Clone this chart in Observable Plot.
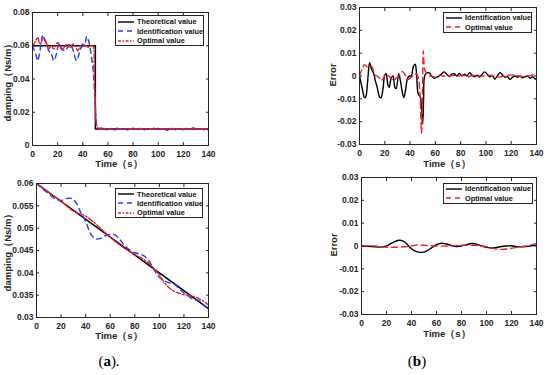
<!DOCTYPE html>
<html><head><meta charset="utf-8">
<script src="https://cdn.jsdelivr.net/npm/d3@7"></script>
<script src="https://cdn.jsdelivr.net/npm/@observablehq/plot@0.6"></script>
<style>
body{margin:0;background:#fff;}
#root{position:relative;width:550px;height:375px;overflow:hidden;font-family:"Liberation Sans",Arial,sans-serif;}
.panel{position:absolute;}
.lab{position:absolute;font-weight:bold;font-size:9.5px;color:#262626;white-space:nowrap;transform:translate(-50%,-50%);}
.ylab{transform:translate(-50%,-50%) rotate(-90deg);}
.legend{position:absolute;border:1px solid #262626;background:#fff;font-weight:bold;font-size:7.3px;color:#111;box-sizing:border-box;}
.legend .row{position:absolute;left:0;height:10px;display:flex;align-items:center;white-space:nowrap;}
.cap{position:absolute;font-family:"Liberation Serif","DejaVu Serif",serif;font-size:15px;color:#000;transform:translate(-50%,-50%);white-space:nowrap;}
</style></head><body><div id="root"></div>
<script>
// ---------- data ----------
const xTicks = [0, 20, 40, 60, 80, 100, 120, 140];
const yTicksA = [0, 0.02, 0.04, 0.06, 0.08];
const yTicksErr = [-0.03, -0.02, -0.01, 0, 0.01, 0.02, 0.03];
const yTicksC = [0.03, 0.035, 0.04, 0.045, 0.05, 0.055, 0.06];

const legendNamesA = ["Theoretical value", "Identification value", "Optimal value"];
const legendNamesB = ["Identification value", "Optimal value"];

// Panel (a) top: step change of damping
const tA_theo = [0, 50, 50, 140];
const vA_theo = [0.06, 0.06, 0.01, 0.01];
const tA_id = [0,1,3,4,5,7,8,10,12,13,15,17,19,21,23,26,28,30,32,35,37,38,40,42,43,45,46,47.5,48.5,49.5,50.5,51.5,53,55,57,60,63,65,67,70,73,76,80,83,86,89,92,95,98,101,104,107,110,113,116,119,122,125,128,131,134,137,140];
const vA_id = [0.06,0.058,0.054,0.051,0.053,0.062,0.066,0.063,0.059,0.057,0.055,0.051,0.055,0.061,0.058,0.057,0.059,0.061,0.058,0.051,0.055,0.058,0.06,0.062,0.0655,0.062,0.058,0.05,0.043,0.03,0.016,0.011,0.0102,0.0106,0.0092,0.0097,0.0103,0.0094,0.0104,0.0097,0.0101,0.0094,0.0104,0.0097,0.0103,0.0095,0.0101,0.0098,0.0109,0.0096,0.0103,0.0091,0.0104,0.0096,0.0102,0.0094,0.0102,0.0096,0.0106,0.0097,0.0101,0.0093,0.009];
const tA_opt = [0,2,4,6,8,9,11,13,15,17,20,22,24,26,28,30,32,34,36,38,40,42,44,46,48,49,50,51,52,54,57,60,63,66,69,72,76,80,84,88,92,96,100,104,108,112,116,120,124,128,132,136,140];
const vA_opt = [0.06,0.062,0.065,0.061,0.064,0.065,0.062,0.058,0.06,0.058,0.062,0.06,0.058,0.06,0.061,0.059,0.061,0.06,0.057,0.06,0.061,0.06,0.059,0.06,0.06,0.045,0.025,0.012,0.0105,0.0098,0.0102,0.0097,0.01,0.0093,0.01,0.0098,0.0101,0.0099,0.0103,0.0098,0.01,0.0101,0.0098,0.0101,0.0099,0.0102,0.0098,0.01,0.0099,0.0103,0.0098,0.0101,0.0097];

// Panel (b) top: errors for step change
const tB_id = [0,2,4,5,6.5,8,9.5,11,12.5,14,16,17,18.5,20,21,22.5,23.5,25,26.5,28,29,31,32,33.5,35,36.5,38,39.5,41,42.5,44,45,46.5,48,49,50,50.7,51.5,53,55,57,59,61,63,65,67,69,71,73,75,77,79,81,83,85,87,89,91,93,95,97,99,101,103,105,107,109,111,113,115,117,119,121,123,125,127,129,131,133,135,137,139,140];
const vB_id = [0,-0.005,-0.0095,-0.009,-0.002,0.0058,0.003,0.0015,-0.002,-0.005,-0.0093,-0.0095,-0.006,0.0005,0.001,-0.004,-0.005,-0.001,0,-0.005,-0.0055,0.001,-0.001,-0.006,-0.0095,-0.006,-0.001,0,0,0.004,0.0052,0.002,-0.008,-0.009,-0.013,-0.021,-0.01,0,0.0012,0.0015,0,-0.001,-0.0005,0,0.001,0.0018,0.0008,-0.0002,0.0008,0.001,0,0.0012,0,0.0008,0,0.0015,0.0003,-0.0003,0.0003,-0.0005,0.0008,0.0018,0.0008,-0.0003,0.0003,-0.0013,0,0.0015,0.0005,-0.0005,-0.0003,-0.0015,-0.0005,0,-0.0005,0,-0.0008,-0.0003,0,-0.001,-0.0003,-0.0013,-0.0012];
const tB_opt = [0,2,4,6,8,10,12,14,16,17,19,21,23,25,27,29,31,33,34,36,38,40,42,44,46,47.5,49,49.5,50,50.5,51.5,53,55,57,60,63,66,70,74,78,82,86,90,94,98,102,106,110,114,118,122,126,130,134,137,140];
const vB_opt = [0,0.003,0.005,0.004,0.0045,0.004,0.0005,0,-0.001,-0.002,-0.001,0.001,0,-0.001,-0.002,-0.001,0,0.001,0.002,0.0005,-0.0015,-0.001,0,0.001,0,-0.005,-0.025,-0.02,0,0.011,0.003,0.001,0,0,-0.0005,0.0003,0,-0.0003,0.0003,0,0.0003,-0.0003,0.0003,0,0,0.0003,0,-0.0005,0,0.0003,0.0005,0,-0.0003,0,0.0005,0.0003];

// Panel (a) bottom: linear change of damping
const tC_theo = [0, 140];
const vC_theo = [0.06, 0.032];
const tC_id = [0,5,10,15,20,24,28,32,36,40,44,48,52,56,60,64,68,72,76,80,84,88,92,96,100,104,108,112,116,120,124,128,132,136,140];
const vC_id = [0.06,0.0588,0.0577,0.0566,0.0562,0.0566,0.0567,0.0558,0.0535,0.0515,0.0488,0.0476,0.0477,0.0483,0.0486,0.0485,0.0474,0.046,0.0451,0.0445,0.0442,0.0437,0.0425,0.0405,0.039,0.0382,0.0378,0.0375,0.0365,0.0355,0.0347,0.034,0.0338,0.0328,0.032];
const tC_opt = [0,10,20,30,40,50,60,70,80,90,100,105,110,115,120,125,130,135,140];
const vC_opt = [0.06,0.058,0.056,0.0538,0.0527,0.0505,0.048,0.0458,0.0441,0.0425,0.0395,0.0375,0.0362,0.0355,0.0351,0.0349,0.0345,0.0338,0.0328];

// Panel (b) bottom: errors for linear change
const tD_id = [0,5,10,15,20,25,30,33,36,40,44,48,52,56,60,64,68,72,76,80,84,88,92,96,100,104,108,112,116,120,124,128,132,136,140];
const vD_id = [0,-0.0001,-0.0003,-0.0005,0,0.0015,0.0025,0.0022,0.001,-0.0012,-0.0025,-0.0028,-0.0022,-0.0008,0.0006,0.0012,0.0009,0.0002,-0.0002,0,0.0006,0.0011,0.0008,0,-0.0006,-0.0009,-0.0006,-0.0002,0,0.0001,-0.0003,-0.0004,-0.0002,0.0001,0.0003];
const tD_opt = [0,10,20,30,40,45,50,60,70,80,90,100,105,112,118,125,132,138,140];
const vD_opt = [0,0,-0.0005,-0.0005,0,0.0005,0.0003,0,0,0.0003,0.0003,-0.0003,-0.001,-0.0015,-0.0012,-0.0005,0,0.0008,0.001];

// ---------- styles ----------
const INK = "#262626";
const BLUE = "#1f3cff";
const RED = "#f01e23";
const fmt = d => String(+d.toFixed(4));

const root = document.getElementById("root");

function panel({left, top, width, height, mL, mR, mT, mB, yDomain, yTicks, lines}) {
  const chart = Plot.plot({
    width, height,
    marginLeft: mL, marginRight: mR, marginTop: mT, marginBottom: mB,
    style: {fontFamily: "Liberation Sans, Arial, sans-serif", fontSize: "8.5px", fontWeight: "bold", color: INK, background: "transparent", overflow: "visible"},
    x: {domain: [0, 140]},
    y: {domain: yDomain},
    marks: [
      ...lines,
      Plot.frame({stroke: INK, strokeWidth: 1}),
      Plot.axisX(xTicks, {anchor: "bottom", tickSize: -3, tickPadding: 8, tickFormat: fmt, label: null}),
      Plot.axisX(xTicks, {anchor: "top", tickSize: -3, fill: "none", label: null}),
      Plot.axisY(yTicks, {anchor: "left", tickSize: -3, tickPadding: 6, tickFormat: fmt, label: null}),
      Plot.axisY(yTicks, {anchor: "right", tickSize: -3, fill: "none", label: null})
    ]
  });
  const div = document.createElement("div");
  div.className = "panel";
  div.style.left = left + "px";
  div.style.top = top + "px";
  div.appendChild(chart);
  root.appendChild(div);
}

const curve = "catmull-rom";
function line(t, v, stroke, dash, c = curve, w = 1.4) {
  return Plot.line(t, {x: t, y: v, stroke, strokeWidth: w, strokeDasharray: dash, curve: c, clip: true});
}

// (a) top
panel({left: 0, top: 0, width: 275, height: 170, mL: 32, mR: 67, mT: 12, mB: 25,
  yDomain: [0, 0.08], yTicks: yTicksA,
  lines: [
    line(tA_theo, vA_theo, "#000", null, "linear", 1.5),
    line(tA_id, vA_id, BLUE, "5,4"),
    line(tA_opt, vA_opt, RED, "5,2,1.5,2")
  ]});
// (b) top
panel({left: 275, top: 0, width: 275, height: 170, mL: 84, mR: 14, mT: 7, mB: 26,
  yDomain: [-0.03, 0.03], yTicks: yTicksErr,
  lines: [
    line(tB_id, vB_id, "#000", null),
    line(tB_opt, vB_opt, RED, "6,4")
  ]});
// (a) bottom
panel({left: 0, top: 170, width: 275, height: 180, mL: 36, mR: 67, mT: 13, mB: 33,
  yDomain: [0.03, 0.06], yTicks: yTicksC,
  lines: [
    line(tC_theo, vC_theo, "#000", null, "linear", 1.5),
    line(tC_id, vC_id, BLUE, "5,4"),
    line(tC_opt, vC_opt, RED, "5,2,1.5,2")
  ]});
// (b) bottom
panel({left: 275, top: 170, width: 275, height: 180, mL: 86, mR: 14, mT: 7, mB: 36,
  yDomain: [-0.03, 0.03], yTicks: yTicksErr,
  lines: [
    line(tD_id, vD_id, "#000", null),
    line(tD_opt, vD_opt, RED, "6,4")
  ]});

// ---------- axis labels ----------
function label(text, x, y, rot) {
  const d = document.createElement("div");
  d.className = "lab" + (rot ? " ylab" : "");
  d.textContent = text;
  d.style.left = x + "px";
  d.style.top = y + "px";
  root.appendChild(d);
}
label("Time（s）", 119, 164);
label("damping（Ns/m）", 8, 80, true);
label("Time（s）", 447, 164);
label("Error", 332, 75, true);
label("Time（s）", 119, 336);
label("damping（Ns/m）", 8, 250, true);
label("Time（s）", 447, 334);
label("Error", 333, 245, true);

// ---------- legends ----------
function legend(x, y, w, h, rowYs, names, styles) {
  const box = document.createElement("div");
  box.className = "legend";
  Object.assign(box.style, {left: x + "px", top: y + "px", width: w + "px", height: h + "px"});
  names.forEach((name, i) => {
    const row = document.createElement("div");
    row.className = "row";
    row.style.top = (rowYs[i] - 5) + "px";
    const s = styles[i];
    row.innerHTML = `<svg width="19" height="10" style="margin-left:1px;margin-right:1px"><line x1="1" x2="17" y1="5" y2="5" stroke="${s.stroke}" stroke-width="1.4" ${s.dash ? `stroke-dasharray="${s.dash}"` : ""}/></svg><span>${name}</span>`;
    box.appendChild(row);
  });
  root.appendChild(box);
}
const stylesA = [{stroke: "#000"}, {stroke: BLUE, dash: "5,4"}, {stroke: RED, dash: "3,1.5,1.5,1.5"}];
const stylesB = [{stroke: "#000"}, {stroke: RED, dash: "5,4"}];
legend(115, 15, 89, 31, [5.5, 15, 24.5], legendNamesA, stylesA);
legend(443, 12, 89, 21, [4.5, 14], legendNamesB, stylesB);
legend(115, 188, 88, 30, [5, 14, 23.5], legendNamesA, stylesA);
legend(443, 183, 90, 21, [4.5, 14], legendNamesB, stylesB);

// ---------- captions ----------
function cap(html, x, y) {
  const d = document.createElement("div");
  d.className = "cap";
  d.innerHTML = html;
  d.style.left = x + "px";
  d.style.top = y + "px";
  root.appendChild(d);
}
cap("(<b>a</b>).", 109, 361);
cap("(<b>b</b>)", 417, 361);
</script>
</body></html>
